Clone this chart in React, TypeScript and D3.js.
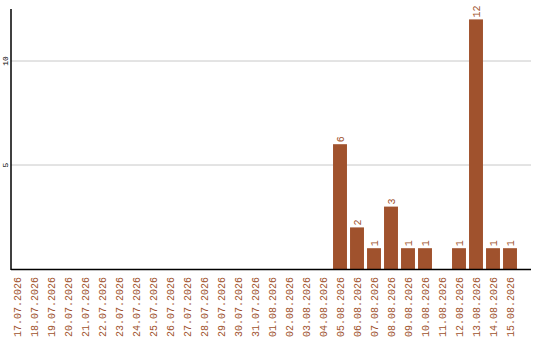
import React from "react";
import * as d3 from "d3";

const dates = [
  "17.07.2026", "18.07.2026", "19.07.2026", "20.07.2026", "21.07.2026",
  "22.07.2026", "23.07.2026", "24.07.2026", "25.07.2026", "26.07.2026",
  "27.07.2026", "28.07.2026", "29.07.2026", "30.07.2026", "31.07.2026",
  "01.08.2026", "02.08.2026", "03.08.2026", "04.08.2026", "05.08.2026",
  "06.08.2026", "07.08.2026", "08.08.2026", "09.08.2026", "10.08.2026",
  "11.08.2026", "12.08.2026", "13.08.2026", "14.08.2026", "15.08.2026",
];
const counts = [
  0, 0, 0, 0, 0, 0, 0, 0, 0, 0, 0, 0, 0, 0, 0, 0, 0, 0, 0,
  6, 2, 1, 3, 1, 1, 0, 1, 12, 1, 1,
];
const yTicks = [5, 10];

const W = 540;
const H = 340;
const BAR = "#a0522d";
const FONT = "'Liberation Mono', 'DejaVu Sans Mono', monospace";

export default function App() {
  const left = 11;
  const right = 531;
  const bottom = 269;
  const top = 9;

  const x = d3
    .scaleBand<string>()
    .domain(dates)
    .range([8.5, 518.5])
    .paddingInner(0.18)
    .paddingOuter(0.09);
  const y = d3.scaleLinear().domain([0, 12.5]).range([bottom, top]);

  return (
    <svg
      width={W}
      height={H}
      style={{ position: "absolute", left: 0, top: 0, background: "#fff" }}
    >
      {yTicks.map((t) => (
        <g key={t}>
          <line x1={left} x2={right} y1={y(t)} y2={y(t)} stroke="#c8c8c8" strokeWidth={1} />
          <text
            transform={`translate(7.5, ${y(t)}) rotate(-90)`}
            textAnchor="middle"
            fontFamily={FONT}
            fontSize={8}
            fill="#000"
          >
            {t}
          </text>
        </g>
      ))}

      {dates.map((d, i) => {
        const v = counts[i];
        const cx = (x(d) as number) + x.bandwidth() / 2;
        return (
          <g key={d}>
            {v > 0 && (
              <>
                <rect
                  x={x(d)}
                  y={y(v)}
                  width={x.bandwidth()}
                  height={bottom - y(v)}
                  fill={BAR}
                />
                <text
                  transform={`translate(${cx + 3.5}, ${y(v) - 2}) rotate(-90)`}
                  textAnchor="start"
                  fontFamily={FONT}
                  fontSize={10}
                  fill={BAR}
                >
                  {v}
                </text>
              </>
            )}
            <text
              transform={`translate(${cx + 3.5}, 277) rotate(-90)`}
              textAnchor="end"
              fontFamily={FONT}
              fontSize={10}
              fill={BAR}
            >
              {d}
            </text>
          </g>
        );
      })}

      <line x1={left} x2={left} y1={top} y2={bottom + 1} stroke="#000" strokeWidth={1.5} />
      <line x1={left} x2={right} y1={bottom + 0.5} y2={bottom + 0.5} stroke="#000" strokeWidth={1.5} />
    </svg>
  );
}
